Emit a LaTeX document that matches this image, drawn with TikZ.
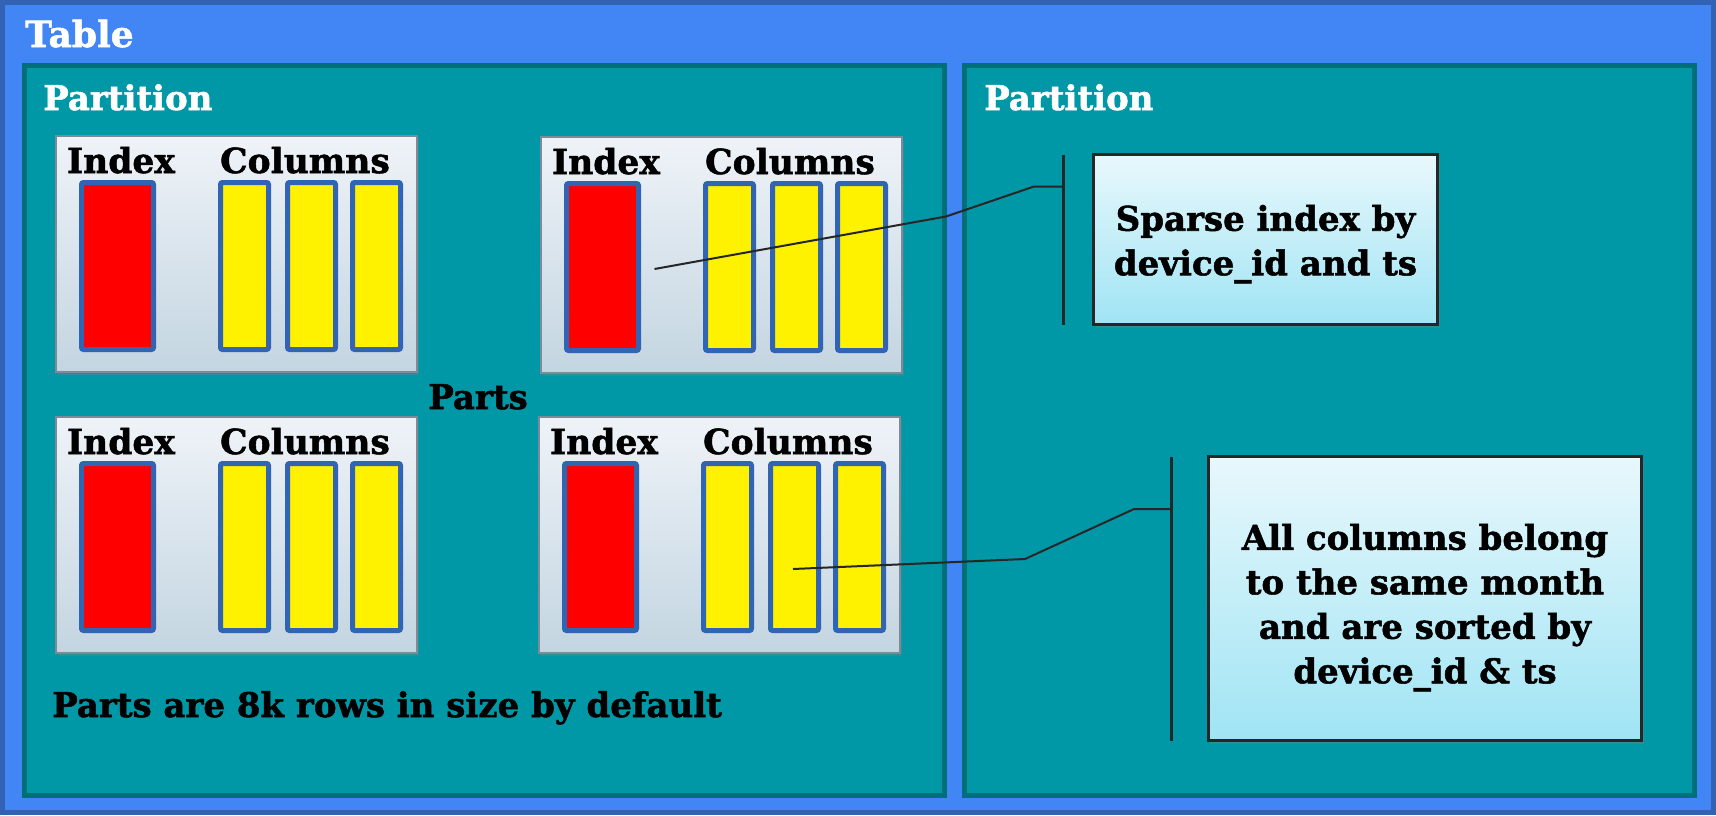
\documentclass[tikz,border=0pt]{standalone}
\usepackage{fontspec}
\newfontfamily\slabfont{DejaVu Serif}[FakeBold=1.5]
\usepackage{tikz}
\usetikzlibrary{
	calc,
	positioning,
	shadows
	}
\definecolor{bleu-table}{HTML}{4285F4}
\definecolor{bleu-bord}{HTML}{3162B4}
\definecolor{sarcelle}{HTML}{0097A7}
\definecolor{sarcelle-bord}{HTML}{006F78}
\definecolor{gris-haut}{HTML}{EFF3F8}
\definecolor{gris-bas}{HTML}{C3D5E1}
\definecolor{gris-bord}{HTML}{7D8B98}
\definecolor{bleu-barre}{HTML}{3264B4}
\definecolor{ciel-haut}{HTML}{E8F8FC}
\definecolor{ciel-bas}{HTML}{A0E4F4}
\tikzstyle{zone-std}=[draw=sarcelle-bord,fill=sarcelle,line width=5pt,inner sep=0pt,outer sep=0pt,anchor=north west]
\tikzstyle{part-std}=[draw=gris-bord,line width=2pt,top color=gris-haut,bottom color=gris-bas,inner sep=0pt,outer sep=0pt,anchor=north west,minimum width=361pt,minimum height=236pt,drop shadow={shadow xshift=2pt,shadow yshift=-3pt,opacity=0.35}]
\tikzstyle{index-std}=[draw=bleu-barre,fill=red,line width=5pt,rounded corners=2pt,inner sep=0pt,outer sep=0pt,anchor=north west,minimum width=72pt,minimum height=167pt]
\tikzstyle{col-std}=[index-std,fill=yellow,minimum width=48pt]
\tikzstyle{note-std}=[draw=black!85,line width=2.5pt,top color=ciel-haut,bottom color=ciel-bas,inner sep=0pt,outer sep=0pt,anchor=north west,align=center,font={\slabfont\bfseries\fontsize{34}{44.5}\selectfont},drop shadow={shadow xshift=2pt,shadow yshift=-3pt,opacity=0.35}]
\tikzstyle{titre-std}=[text=white,inner sep=0pt,anchor=base west,font={\slabfont\bfseries\fontsize{34}{40}\selectfont}]
\tikzstyle{label-std}=[inner sep=0pt,anchor=base,font={\slabfont\bfseries\fontsize{34.5}{40}\selectfont}]
\tikzstyle{lien-std}=[draw=black!85,line width=2pt]
\tikzstyle{crochet-std}=[draw=black!85,line width=3pt]

\begin{document}
\begin{tikzpicture}[x=1pt,y=-1pt]
\useasboundingbox (0,0) rectangle (1716,815);
\draw[draw=bleu-bord,fill=bleu-table,line width=5pt] (2.5,2.5) rectangle (1713.5,812.5);
\node[titre-std,font={\slabfont\bfseries\fontsize{36}{40}\selectfont}] (table) at (25,47) {Table};

\node[zone-std,minimum width=920pt,minimum height=730pt] (partG) at (24.5,65.5) {};
\node[zone-std,minimum width=730pt,minimum height=730pt] (partD) at (964.5,65.5) {};
\node[titre-std] (titreG) at ($(partG.north west)+(18.5,44.5)$) {Partition};
\node[titre-std] (titreD) at ($(partD.north west)+(19.5,44.5)$) {Partition};

\node[part-std] (p1) at (56,136) {};
\node[index-std] (p1-idx) at ($(p1.north west)+(25.5,46.5)$) {};
\node[col-std] (p1-c1) at ($(p1.north west)+(164.5,46.5)$) {};
\node[col-std] (p1-c2) at ($(p1.north west)+(231.5,46.5)$) {};
\node[col-std] (p1-c3) at ($(p1.north west)+(296.5,46.5)$) {};
\node[label-std] (p1-lidx) at ($(p1.north west)+(65,37)$) {Index};
\node[label-std] (p1-lcol) at ($(p1.north west)+(249,37)$) {Columns};

\node[part-std] (p2) at (541,137) {};
\node[index-std] (p2-idx) at ($(p2.north west)+(25.5,46.5)$) {};
\node[col-std] (p2-c1) at ($(p2.north west)+(164.5,46.5)$) {};
\node[col-std] (p2-c2) at ($(p2.north west)+(231.5,46.5)$) {};
\node[col-std] (p2-c3) at ($(p2.north west)+(296.5,46.5)$) {};
\node[label-std] (p2-lidx) at ($(p2.north west)+(65,37)$) {Index};
\node[label-std] (p2-lcol) at ($(p2.north west)+(249,37)$) {Columns};

\node[part-std] (p3) at (56,417) {};
\node[index-std] (p3-idx) at ($(p3.north west)+(25.5,46.5)$) {};
\node[col-std] (p3-c1) at ($(p3.north west)+(164.5,46.5)$) {};
\node[col-std] (p3-c2) at ($(p3.north west)+(231.5,46.5)$) {};
\node[col-std] (p3-c3) at ($(p3.north west)+(296.5,46.5)$) {};
\node[label-std] (p3-lidx) at ($(p3.north west)+(65,37)$) {Index};
\node[label-std] (p3-lcol) at ($(p3.north west)+(249,37)$) {Columns};

\node[part-std] (p4) at (539,417) {};
\node[index-std] (p4-idx) at ($(p4.north west)+(25.5,46.5)$) {};
\node[col-std] (p4-c1) at ($(p4.north west)+(164.5,46.5)$) {};
\node[col-std] (p4-c2) at ($(p4.north west)+(231.5,46.5)$) {};
\node[col-std] (p4-c3) at ($(p4.north west)+(296.5,46.5)$) {};
\node[label-std] (p4-lidx) at ($(p4.north west)+(65,37)$) {Index};
\node[label-std] (p4-lcol) at ($(p4.north west)+(249,37)$) {Columns};

\node[label-std,font={\slabfont\bfseries\fontsize{34}{40}\selectfont}] (parts) at (478,409) {Parts};
\node[label-std,anchor=base west,font={\slabfont\bfseries\fontsize{34}{40}\selectfont}] (defaut) at (52,717) {Parts are 8k rows in size by default};

\node[note-std,minimum width=344pt,minimum height=170pt] (note1) at (1093.5,154.5) {\rule{0pt}{35pt}Sparse index by\\device\_id and ts};
\node[note-std,minimum width=433pt,minimum height=284pt] (note2) at (1208.5,456.5) {\rule{0pt}{44pt}All columns belong\\to the same month\\and are sorted by\\device\_id \& ts};

\coordinate (n1-haut) at ($(note1.north west)+(-30,0)$);
\coordinate (n1-bas) at ($(note1.south west)+(-30,0)$);
\coordinate (n1-pied) at ($(n1-haut)+(0,32)$);
\coordinate (n2-haut) at ($(note2.north west)+(-37,0)$);
\coordinate (n2-bas) at ($(note2.south west)+(-37,0)$);
\coordinate (n2-pied) at ($(n2-haut)+(0,52.5)$);
\coordinate (idx-pt) at ($(p2-idx.east)+(16,2)$);
\coordinate (col-pt) at ($(p4-c2.center)+(-1.5,22)$);

\draw[crochet-std] (n1-haut) -- (n1-bas);
\draw[crochet-std] (n2-haut) -- (n2-bas);
\draw[lien-std] (idx-pt) -- ($(n1-pied)+(-117.5,30)$) -- ($(n1-pied)+(-29.5,0)$) -- (n1-pied);
\draw[lien-std] (col-pt) -- ($(n2-pied)+(-146.5,50)$) -- ($(n2-pied)+(-37.5,0)$) -- (n2-pied);
\end{tikzpicture}
\end{document}
